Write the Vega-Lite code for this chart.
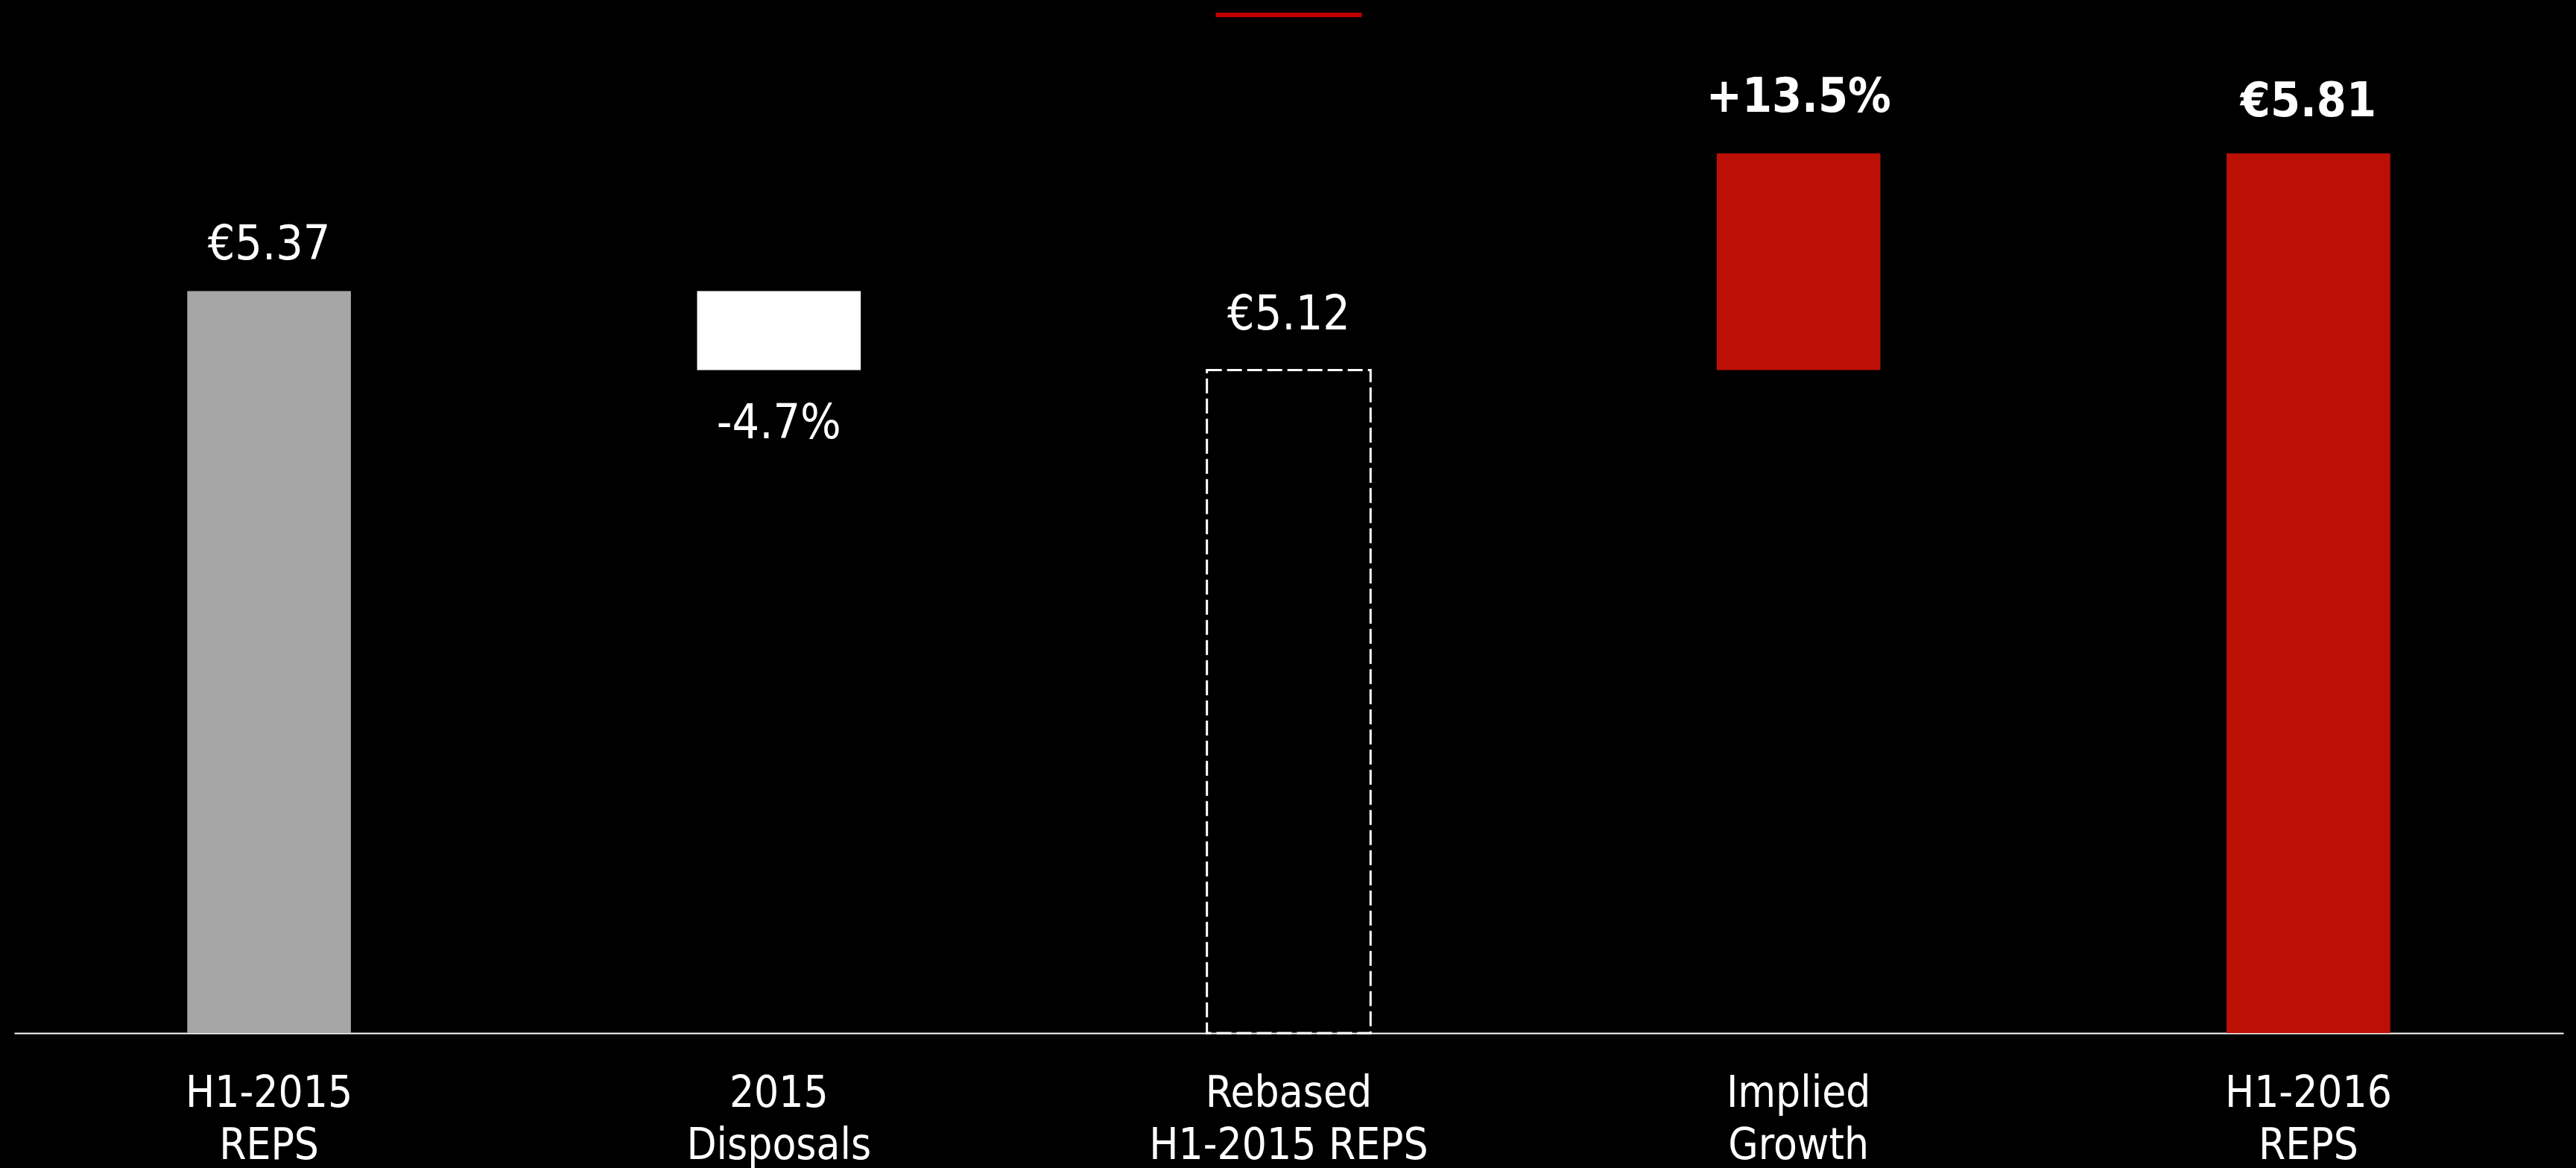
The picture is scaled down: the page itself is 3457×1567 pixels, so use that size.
{
  "$schema": "https://vega.github.io/schema/vega-lite/v6.json",
  "width": 3421,
  "height": 1386,
  "autosize": {"type": "none"},
  "padding": {"left": 19, "top": 0, "right": 17, "bottom": 181},
  "background": "#000000",
  "config": {
    "view": {"stroke": null},
    "font": "'DejaVu Sans Condensed', 'DejaVu Sans', sans-serif"
  },
  "data": {
    "values": [
      {"cat": "H1-2015\nREPS", "lo": 0, "hi": 5.37, "type": "base", "label": "€5.37"},
      {"cat": "2015\nDisposals", "lo": 5.118, "hi": 5.37, "type": "disposal", "label": "-4.7%"},
      {"cat": "Rebased\nH1-2015 REPS", "lo": 0, "hi": 5.118, "type": "rebased", "label": "€5.12"},
      {"cat": "Implied\nGrowth", "lo": 5.118, "hi": 5.81, "type": "growth", "label": "+13.5%"},
      {"cat": "H1-2016\nREPS", "lo": 0, "hi": 5.81, "type": "result", "label": "€5.81"}
    ]
  },
  "encoding": {
    "x": {
      "field": "cat",
      "type": "nominal",
      "sort": null,
      "scale": {
        "domain": ["H1-2015\nREPS", "2015\nDisposals", "Rebased\nH1-2015 REPS", "Implied\nGrowth", "H1-2016\nREPS"],
        "paddingInner": 0.679,
        "paddingOuter": 0.3395
      },
      "axis": {
        "title": null,
        "labelAngle": 0,
        "labelExpr": "split(datum.value, '\\n')",
        "labelFont": "'DejaVu Sans Condensed', 'DejaVu Sans', sans-serif",
        "labelFontSize": 58,
        "labelLineHeight": 70,
        "labelColor": "#FFFFFF",
        "labelPadding": 52,
        "labelBaseline": "top",
        "labelLimit": 0,
        "ticks": false,
        "domainColor": "#FFFFFF",
        "domainWidth": 2,
        "grid": false
      }
    }
  },
  "layer": [
    {
      "transform": [{"filter": "datum.type !== 'rebased'"}],
      "mark": {"type": "bar"},
      "encoding": {
        "y": {"field": "hi", "type": "quantitative", "scale": {"domain": [3, 6.3], "nice": false, "zero": false, "clamp": true}, "axis": null},
        "y2": {"field": "lo"},
        "color": {
          "field": "type",
          "type": "nominal",
          "scale": {"domain": ["base", "disposal", "growth", "result"], "range": ["#A6A6A6", "#FFFFFF", "#BC1007", "#BC1007"]},
          "legend": null
        }
      }
    },
    {
      "transform": [{"filter": "datum.type === 'rebased'"}],
      "mark": {"type": "bar", "fillOpacity": 0, "fill": "#000000", "stroke": "#FFFFFF", "strokeWidth": 3, "strokeDash": [20, 7]},
      "encoding": {
        "y": {"field": "hi", "type": "quantitative"},
        "y2": {"field": "lo"}
      }
    },
    {
      "transform": [{"filter": "datum.label === '€5.37'"}],
      "mark": {"type": "text", "fontSize": 64, "color": "#FFFFFF", "align": "center", "baseline": "alphabetic", "dy": -43},
      "encoding": {"y": {"field": "hi", "type": "quantitative"}, "text": {"field": "label"}}
    },
    {
      "transform": [{"filter": "datum.label === '-4.7%'"}],
      "mark": {"type": "text", "fontSize": 64, "color": "#FFFFFF", "align": "center", "baseline": "alphabetic", "dy": 92},
      "encoding": {"y": {"field": "lo", "type": "quantitative"}, "text": {"field": "label"}}
    },
    {
      "transform": [{"filter": "datum.label === '€5.12'"}],
      "mark": {"type": "text", "fontSize": 64, "color": "#FFFFFF", "align": "center", "baseline": "alphabetic", "dy": -54},
      "encoding": {"y": {"field": "hi", "type": "quantitative"}, "text": {"field": "label"}}
    },
    {
      "transform": [{"filter": "datum.label === '+13.5%'"}],
      "mark": {"type": "text", "fontSize": 64, "fontWeight": "bold", "color": "#FFFFFF", "align": "center", "baseline": "alphabetic", "dy": -56},
      "encoding": {"y": {"field": "hi", "type": "quantitative"}, "text": {"field": "label"}}
    },
    {
      "transform": [{"filter": "datum.label === '€5.81'"}],
      "mark": {"type": "text", "fontSize": 64, "fontWeight": "bold", "color": "#FFFFFF", "align": "center", "baseline": "alphabetic", "dy": -50},
      "encoding": {"y": {"field": "hi", "type": "quantitative"}, "text": {"field": "label"}}
    },
    {
      "data": {"values": [{}]},
      "mark": {"type": "tick", "color": "#C00000", "size": 196, "thickness": 6, "opacity": 1},
      "encoding": {
        "x": {"datum": "Rebased\nH1-2015 REPS", "type": "nominal"},
        "y": {"datum": 6.2524, "type": "quantitative"}
      }
    }
  ]
}
